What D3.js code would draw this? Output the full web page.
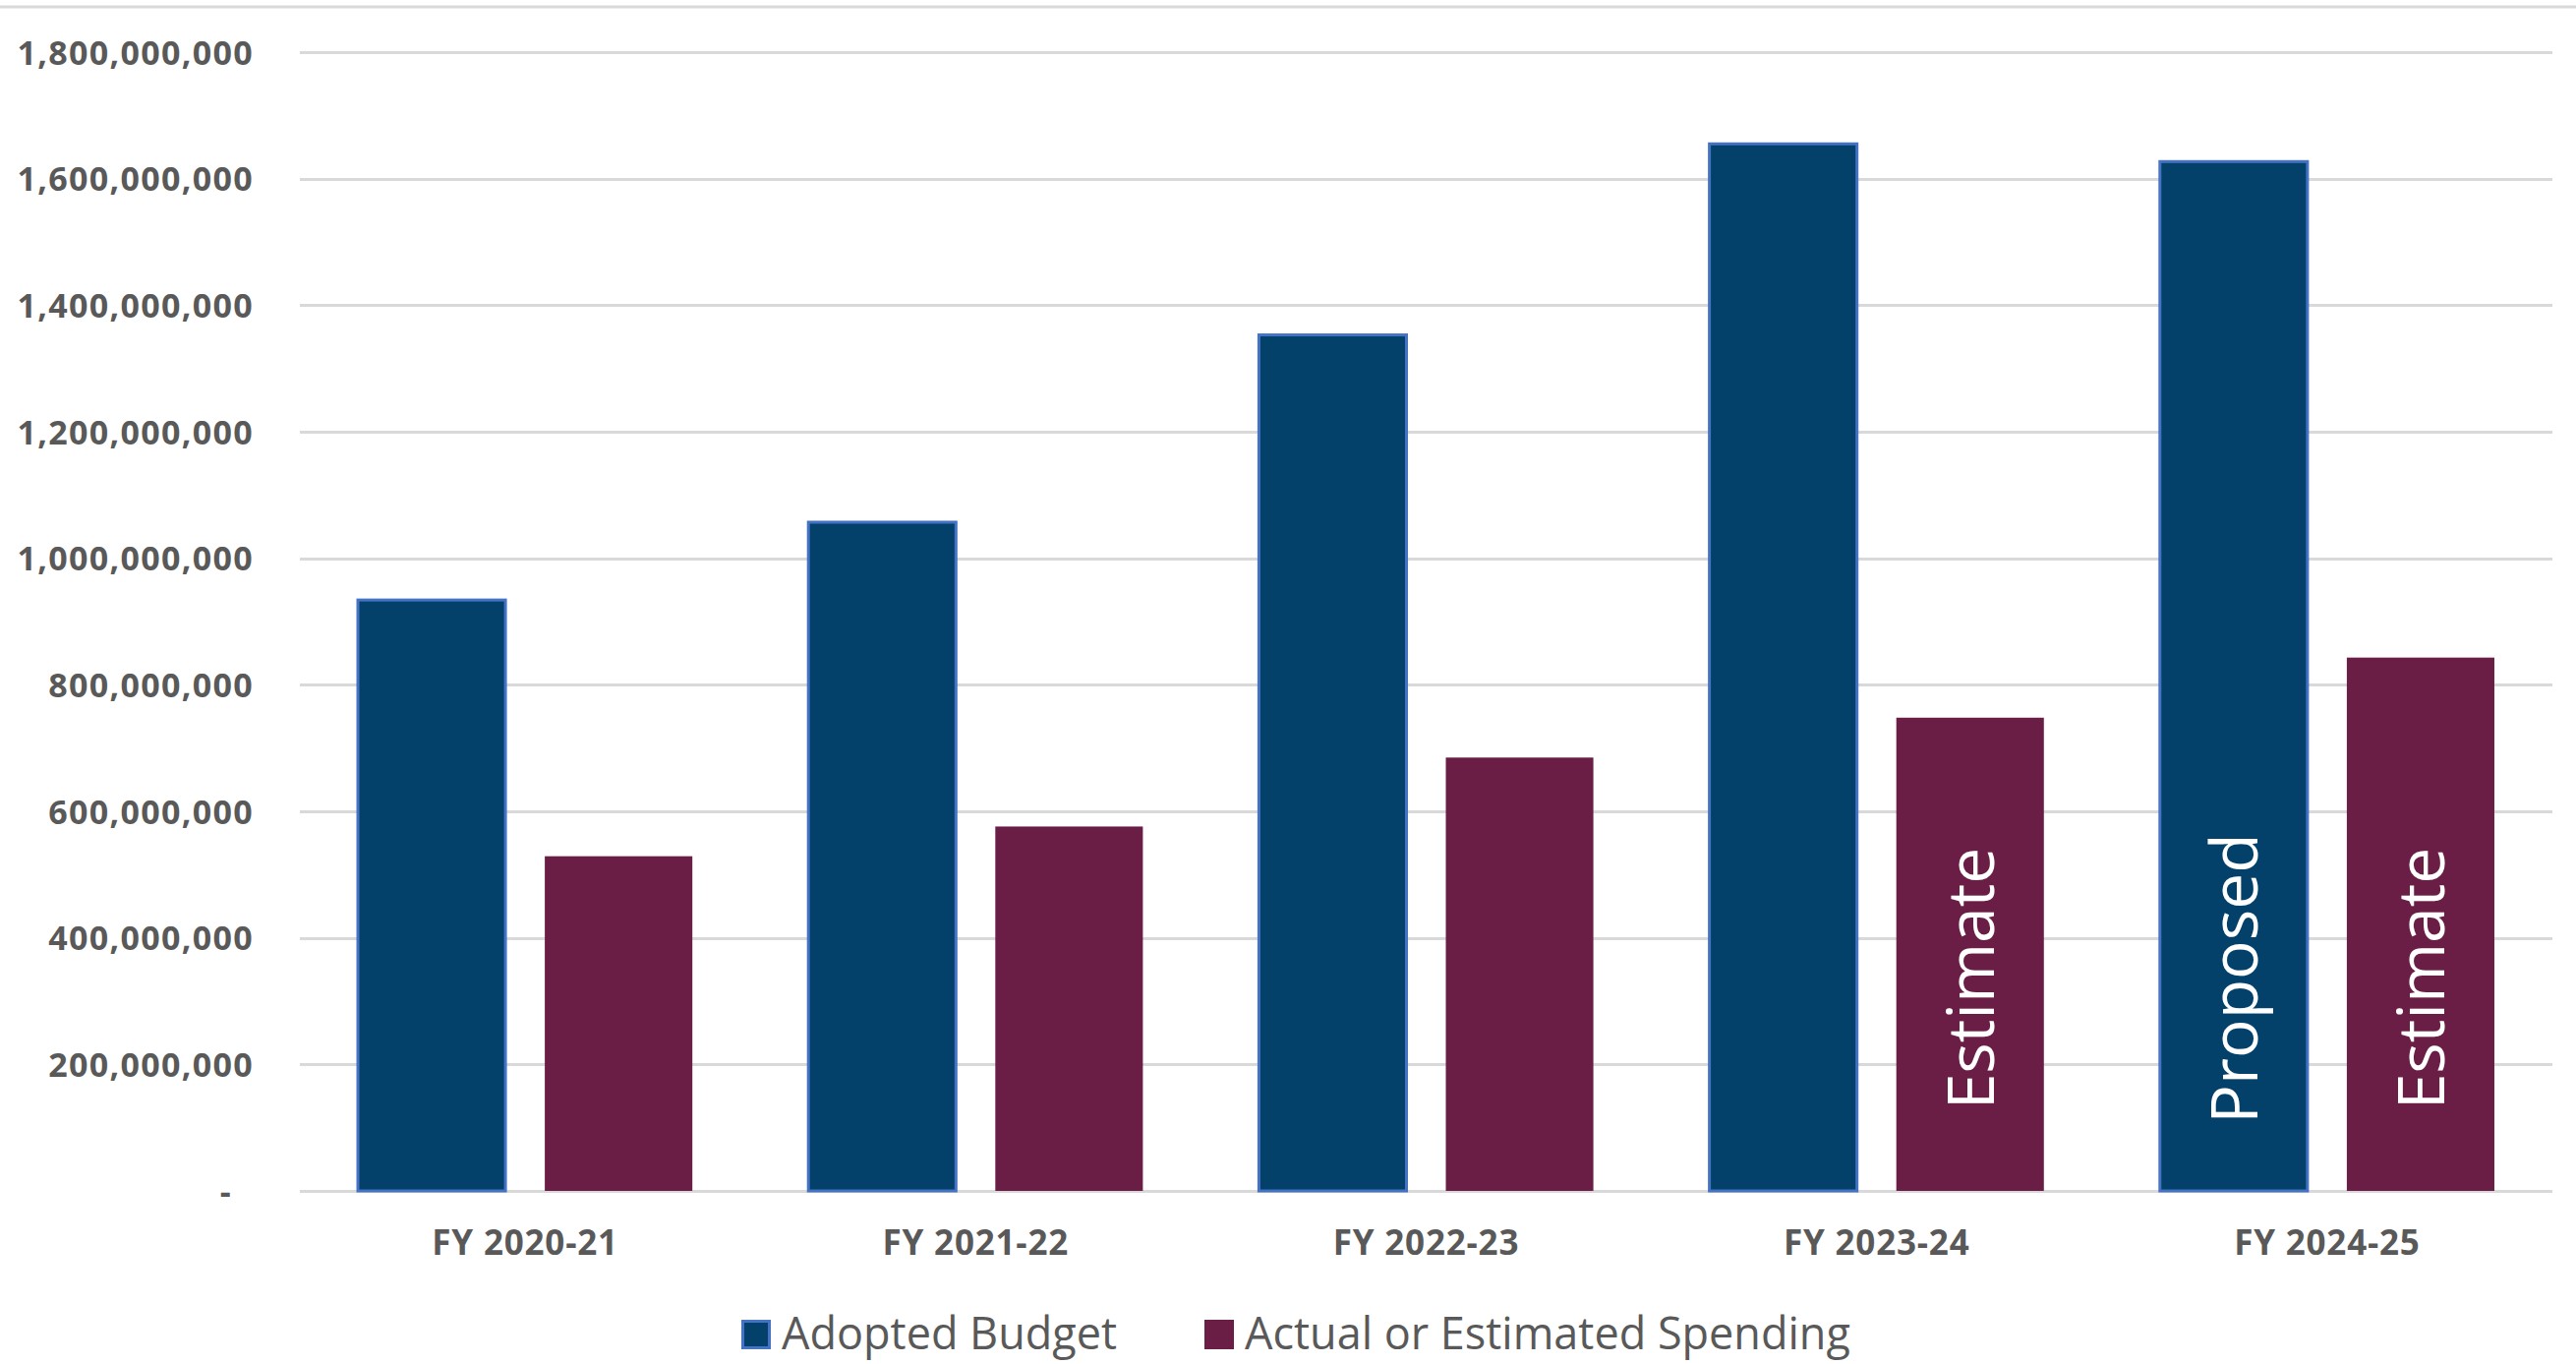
<!DOCTYPE html>
<html>
<head>
<meta charset="utf-8">
<script src="https://cdn.jsdelivr.net/npm/d3@7"></script>
<style>
  html, body { margin: 0; padding: 0; background: #ffffff; }
  svg { display: block; }
</style>
</head>
<body>
<svg id="chart" width="2620" height="1387"></svg>
<script>
// ---- data ----
const categories = ["FY 2020-21", "FY 2021-22", "FY 2022-23", "FY 2023-24", "FY 2024-25"];
const seriesNames = ["Adopted Budget", "Actual or Estimated Spending"];
const adoptedBudget = [934000000, 1057000000, 1353000000, 1655000000, 1627000000];
const actualSpending = [529000000, 576000000, 685000000, 748000000, 843000000];
const yTicks = [0, 200000000, 400000000, 600000000, 800000000, 1000000000, 1200000000, 1400000000, 1600000000, 1800000000];
const barNotes = [
  { category: "FY 2023-24", series: "Actual or Estimated Spending", text: "Estimate" },
  { category: "FY 2024-25", series: "Adopted Budget", text: "Proposed" },
  { category: "FY 2024-25", series: "Actual or Estimated Spending", text: "Estimate" }
];

// ---- style ----
const colors = { "Adopted Budget": "#03416b", "Actual or Estimated Spending": "#6a1e45" };
const strokes = { "Adopted Budget": "#4472c4", "Actual or Estimated Spending": "none" };
const textGrey = "#595959";
const gridGrey = "#d9d9d9";

const svg = d3.select("#chart");
const W = 2620;
const plot = { left: 305, right: 2596, top: 53, bottom: 1211 };

const x0 = d3.scaleBand().domain(categories).range([plot.left, plot.right])
  .paddingInner(0.2576).paddingOuter(0.1288);
const x1 = d3.scaleBand().domain(seriesNames).range([0, x0.bandwidth()])
  .paddingInner(40 / 190).paddingOuter(0);
const y = d3.scaleLinear().domain([0, 1800000000]).range([plot.bottom, plot.top]);

// top border line
svg.append("line").attr("x1", 0).attr("x2", W).attr("y1", 7).attr("y2", 7)
  .attr("stroke", gridGrey).attr("stroke-width", 3);

// gridlines
svg.append("g").selectAll("line").data(yTicks).join("line")
  .attr("x1", plot.left).attr("x2", plot.right)
  .attr("y1", d => Math.round(y(d)) + 0.5).attr("y2", d => Math.round(y(d)) + 0.5)
  .attr("stroke", gridGrey).attr("stroke-width", 3);

// y axis labels via d3 axis
const fmt = d3.format(",");
const yAxis = d3.axisLeft(y).tickValues(yTicks).tickSize(0).tickPadding(0)
  .tickFormat(d => d === 0 ? "-" : fmt(d));
const gy = svg.append("g").attr("transform", "translate(258,0)").call(yAxis);
gy.select(".domain").remove();
gy.selectAll("text")
  .attr("font-family", "'Open Sans', sans-serif")
  .attr("font-weight", "bold")
  .attr("font-size", 34)
  .attr("fill", textGrey)
  .attr("letter-spacing", 1.3)
  .attr("dy", "0.36em")
  .attr("dx", d => d === 0 ? -22 : 0);

// bars
const rows = categories.map((c, i) => ({ category: c, values: [
  { series: seriesNames[0], value: adoptedBudget[i] },
  { series: seriesNames[1], value: actualSpending[i] }
]}));

const groups = svg.append("g").selectAll("g").data(rows).join("g")
  .attr("transform", d => `translate(${x0(d.category)},0)`);
groups.selectAll("rect").data(d => d.values).join("rect")
  .attr("x", d => x1(d.series))
  .attr("width", x1.bandwidth())
  .attr("y", d => y(d.value))
  .attr("height", d => y(0) - y(d.value))
  .attr("fill", d => colors[d.series])
  .attr("stroke", d => strokes[d.series])
  .attr("stroke-width", 3);

// x axis labels via d3 axis
const xAxis = d3.axisBottom(x0).tickSize(0).tickPadding(0);
const gx = svg.append("g").attr("transform", `translate(0,${plot.bottom})`).call(xAxis);
gx.select(".domain").remove();
gx.selectAll("text")
  .attr("font-family", "'Open Sans', sans-serif")
  .attr("font-weight", "bold")
  .attr("font-size", 35)
  .attr("letter-spacing", 0.8)
  .attr("fill", textGrey)
  .attr("y", 0)
  .attr("dy", 65);

// notes inside bars
svg.append("g").selectAll("text").data(barNotes).join("text")
  .attr("transform", d => {
    const cx = x0(d.category) + x1(d.series) + x1.bandwidth() / 2;
    const cy = y(0) - 216;
    return `translate(${cx},${cy}) rotate(-90)`;
  })
  .attr("text-anchor", "middle")
  .attr("dy", "0.36em")
  .attr("font-family", "'Open Sans', sans-serif")
  .attr("font-size", 66)
  .attr("fill", "#ffffff")
  .text(d => d.text);

// legend
const legendX = [754, 1225];
const legend = svg.append("g").selectAll("g").data(seriesNames).join("g")
  .attr("transform", (d, i) => `translate(${legendX[i]},1342)`);
legend.append("rect")
  .attr("x", d => strokes[d] === "none" ? 0 : 1.5)
  .attr("y", d => strokes[d] === "none" ? 0 : 1.5)
  .attr("width", d => strokes[d] === "none" ? 30 : 27)
  .attr("height", d => strokes[d] === "none" ? 30 : 27)
  .attr("fill", d => colors[d])
  .attr("stroke", d => strokes[d])
  .attr("stroke-width", 3);
legend.append("text")
  .attr("x", 41)
  .attr("y", 30)
  .attr("font-family", "'Open Sans', sans-serif")
  .attr("font-size", 45)
  .attr("fill", textGrey)
  .text(d => d);
</script>
</body>
</html>
